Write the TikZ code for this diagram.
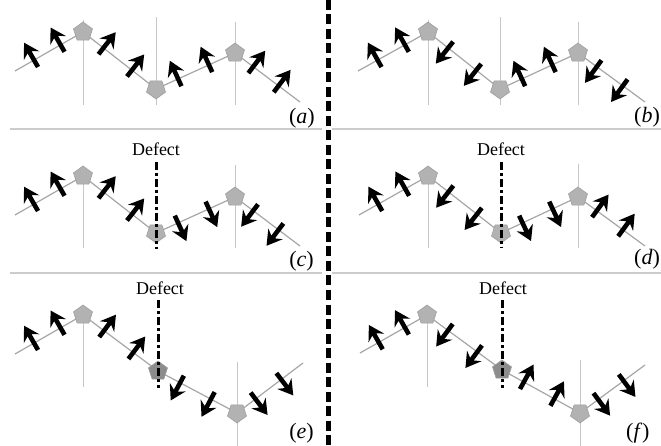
\documentclass[tikz,border=0pt]{standalone}
\usepackage{fontspec}
\setmainfont{Liberation Serif}
\usetikzlibrary{calc,shapes.geometric}

\tikzset{
  backbone/.style={draw=black!35, line width=1.2pt},
  guide/.style={draw=black!22, line width=1pt},
  rule/.style={draw=black!20, line width=1.5pt},
  defectline/.style={draw=black, line width=3pt, dash pattern=on 8pt off 3pt on 3pt off 3pt},
  divider/.style={draw=black, line width=5pt, dash pattern=on 10pt off 4.5pt},
  pent/.style={regular polygon, regular polygon sides=5, minimum size=20pt, inner sep=0pt,
    fill=black!30, draw=black!38, line width=0.6pt},
  valley/.style={pent, shape border rotate=180},
  darkpent/.style={pent, fill=black!45},
  tag/.style={font=\fontsize{22}{26}\selectfont, inner sep=0pt},
  note/.style={font=\fontsize{18}{22}\selectfont, inner sep=0pt},
  % a spin arrow pointing along +x, its shaft crossing the origin
  spinarrow/.pic={
    \fill[black] (-8,-2.3) -- (9,-2.3) -- (5,-9) -- (20,0) -- (5,9) -- (9,2.3) -- (-8,2.3) -- cycle;
  },
}

% two spins on the bond from #1 to #2, turned #3 degrees from the bond direction
\newcommand\spins[3]{%
  \foreach \f in {0.28,0.67}{%
    \path let \p1=($(#2)-(#1)$), \n1={atan2(\y1,\x1)+#3} in
      ($(#1)!\f!(#2)$) pic[rotate=\n1] {spinarrow};
  }}
\newcommand\spinside[3]{\if#3u\spins{#1}{#2}{90}\else\spins{#1}{#2}{-90}\fi}
% the four bonds of chain #1; #2..#5 give the side of each (u or d)
\newcommand\bondset[5]{%
  \spinside{#1 0}{#1 1}{#2}\spinside{#1 1}{#1 2}{#3}%
  \spinside{#1 2}{#1 3}{#4}\spinside{#1 3}{#1 4}{#5}}

\begin{document}
\begin{tikzpicture}[x=1pt,y=-1pt]
\useasboundingbox (0,0) rectangle (661,446);
\fill[white] (0,0) rectangle (661,446);

% row rules
\draw[rule] (10,129) -- (322,129);
\draw[rule] (332,129) -- (661,129);
\draw[rule] (10,273) -- (322,273);
\draw[rule] (332,273) -- (661,273);

% chain sites
\coordinate (a 0) at (15,71);  \coordinate (a 1) at (83,32);  \coordinate (a 2) at (156,89);
\coordinate (a 3) at (235,53); \coordinate (a 4) at (300,102);
\coordinate (b 0) at (358,71); \coordinate (b 1) at (428,32); \coordinate (b 2) at (500,89);
\coordinate (b 3) at (578,53); \coordinate (b 4) at (645,102);
\coordinate (c 0) at (15,215); \coordinate (c 1) at (83,176); \coordinate (c 2) at (156,233);
\coordinate (c 3) at (235,197);\coordinate (c 4) at (300,246);
\coordinate (d 0) at (359,215);\coordinate (d 1) at (428,176);\coordinate (d 2) at (501,233);
\coordinate (d 3) at (578,197);\coordinate (d 4) at (645,246);
\coordinate (e 0) at (15,354); \coordinate (e 1) at (83,315); \coordinate (e 2) at (158,371);
\coordinate (e 3) at (237,413);\coordinate (e 4) at (303,363);
\coordinate (f 0) at (360,353);\coordinate (f 1) at (427,315);\coordinate (f 2) at (502,370);
\coordinate (f 3) at (580,413);\coordinate (f 4) at (645,365);

% vertical guides
\draw[guide] (83,20) -- (83,105);   \draw[guide] (156,17) -- (156,105); \draw[guide] (235,22) -- (235,105);
\draw[guide] (428,20) -- (428,105); \draw[guide] (500,17) -- (500,105); \draw[guide] (578,22) -- (578,105);
\draw[guide] (c 1) -- (83,248);     \draw[guide] (235,165) -- (235,248);
\draw[guide] (d 1) -- (428,248);    \draw[guide] (578,164) -- (578,248);
\draw[guide] (e 1) -- (83,387);     \draw[guide] (237,362) -- (237,446);
\draw[guide] (f 1) -- (427,387);    \draw[guide] (580,360) -- (580,446);

% chains
\foreach \p in {a,b,c,d,e,f}
  \draw[backbone] (\p\space 0) -- (\p\space 1) -- (\p\space 2) -- (\p\space 3) -- (\p\space 4);

% sites
\node[pent] (pa1) at (a 1) {}; \node[valley] (pa2) at (a 2) {}; \node[pent] (pa3) at (a 3) {};
\node[pent] (pb1) at (b 1) {}; \node[valley] (pb2) at (b 2) {}; \node[pent] (pb3) at (b 3) {};
\node[pent] (pc1) at (c 1) {}; \node[valley] (pc2) at (c 2) {}; \node[pent] (pc3) at (c 3) {};
\node[pent] (pd1) at (d 1) {}; \node[valley] (pd2) at (d 2) {}; \node[pent] (pd3) at (d 3) {};
\node[pent] (pe1) at (e 1) {}; \node[darkpent] (pe2) at (e 2) {}; \node[valley] (pe3) at (e 3) {};
\node[pent] (pf1) at (f 1) {}; \node[darkpent] (pf2) at (f 2) {}; \node[valley] (pf3) at (f 3) {};

% defect markers
\draw[defectline] (156,162) -- (156,249);
\draw[defectline] (501,162) -- (501,248);
\draw[defectline] (158,300) -- (158,388);
\draw[defectline] (502,300) -- (502,388);
\node[note] (dc) at (156,149) {Defect};
\node[note] (dd) at (501,149) {Defect};
\node[note] (de) at (160,288) {Defect};
\node[note] (df) at (503,288) {Defect};

% spins
\bondset{a}{u}{u}{u}{u}
\bondset{b}{u}{d}{u}{d}
\bondset{c}{u}{u}{d}{d}
\bondset{d}{u}{d}{d}{u}
\bondset{e}{u}{u}{d}{d}
\bondset{f}{u}{d}{u}{d}

% panel tags
\node[tag, anchor=east] (ta) at (315,118) {(\textit{a})};
\node[tag, anchor=east] (tc) at (314,261) {(\textit{c})};
\node[tag, anchor=east] (te) at (314,433) {(\textit{e})};
\node[tag, anchor=west] (tb) at (634,117) {(\textit{b})};
\node[tag, anchor=west] (td) at (634,259) {(\textit{d})};
\node[tag, anchor=west] (tf) at (626,433) {(\textit{f})};

% column divider
\draw[divider] (328,0) -- (328,446);
\end{tikzpicture}
\end{document}
